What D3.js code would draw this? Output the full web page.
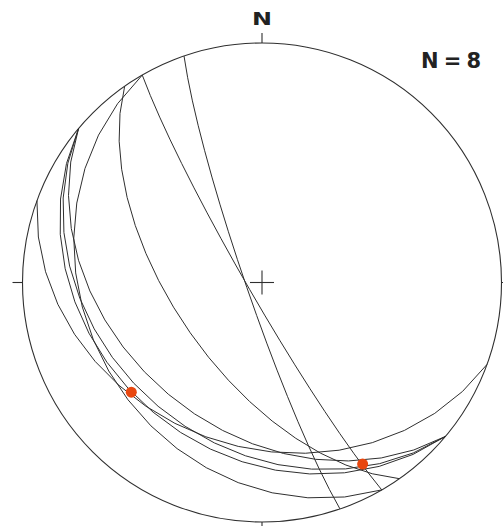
<!DOCTYPE html>
<html>
<head>
<meta charset="utf-8">
<script src="https://cdn.jsdelivr.net/npm/d3@7"></script>
<style>
  html, body { margin: 0; padding: 0; background: #fff; }
  svg { display: block; }
</style>
</head>
<body>
<svg id="net" width="503" height="526"></svg>
<script>
// Planes measured in the field: strike (right-hand rule) and dip, in degrees
const planeStrikes = [161, 150, 150, 145, 110, 130, 130, 130];
const planeDips    = [84.6, 85.2, 27, 60, 32, 30, 33, 39];

// Lineations: trend and plunge, in degrees
const pointTrends  = [230, 151];
const pointPlunges = [29.5, 14.4];

// Labels
const northLabel = "N";
const countLabel = "N = 8";

const svg = d3.select("#net");
const cx = 262, cy = 282.5, R = 239.5;
const rad = Math.PI / 180;

// Net coordinates (-1..1) to pixels
const xScale = d3.scaleLinear().domain([-1, 1]).range([cx - R, cx + R]);
const yScale = d3.scaleLinear().domain([-1, 1]).range([cy + R, cy - R]);
// Lambert equal-area: distance from centre grows with sqrt(1 - sin(plunge))
const rhoScale = d3.scaleSqrt().domain([0, 1]).range([0, 1]);

// Project a line (trend, plunge) onto the lower hemisphere net
function project(trend, plunge) {
  const rho = rhoScale(1 - Math.sin(plunge * rad));
  return [xScale(rho * Math.sin(trend * rad)), yScale(rho * Math.cos(trend * rad))];
}

// Points along a great circle, stepping the rake from 0 to 180 degrees
function greatCircle(strike, dip, step) {
  const s = strike * rad, d = dip * rad;
  const S = [Math.cos(s), Math.sin(s), 0];
  const D = [Math.cos(d) * Math.cos(s + Math.PI / 2), Math.cos(d) * Math.sin(s + Math.PI / 2), Math.sin(d)];
  const pts = [];
  for (let a = 0; a <= 180 + 1e-9; a += step) {
    const ca = Math.cos(a * rad), sa = Math.sin(a * rad);
    const n = ca * S[0] + sa * D[0];
    const e = ca * S[1] + sa * D[1];
    const z = Math.min(1, Math.max(0, ca * S[2] + sa * D[2]));
    const trend = Math.atan2(e, n) / rad;
    const plunge = Math.asin(z) / rad;
    pts.push(project(trend, plunge));
  }
  return pts;
}

const ink = "#2f2f2f";

// Primitive circle
svg.append("circle")
  .attr("cx", xScale(0)).attr("cy", yScale(0))
  .attr("r", xScale(1) - xScale(0))
  .attr("fill", "none").attr("stroke", ink).attr("stroke-width", 1.1);

// Ticks at the cardinal points, pointing outward
const tickLen = 10;
[0, 90, 180, 270].forEach(az => {
  const [x1, y1] = project(az, 0);
  const ux = Math.sin(az * rad), uy = -Math.cos(az * rad);
  svg.append("line")
    .attr("x1", x1).attr("y1", y1)
    .attr("x2", x1 + ux * tickLen).attr("y2", y1 + uy * tickLen)
    .attr("stroke", ink).attr("stroke-width", 1.1);
});

// Centre cross
const crossHalf = 12;
svg.append("line")
  .attr("x1", xScale(0) - crossHalf).attr("x2", xScale(0) + crossHalf)
  .attr("y1", yScale(0)).attr("y2", yScale(0))
  .attr("stroke", ink).attr("stroke-width", 1.1);
svg.append("line")
  .attr("x1", xScale(0)).attr("x2", xScale(0))
  .attr("y1", yScale(0) - crossHalf).attr("y2", yScale(0) + crossHalf)
  .attr("stroke", ink).attr("stroke-width", 1.1);

// Great circles
const line = d3.line().curve(d3.curveLinear);
svg.append("g").selectAll("path")
  .data(d3.range(planeStrikes.length))
  .join("path")
  .attr("d", i => line(greatCircle(planeStrikes[i], planeDips[i], 10)))
  .attr("fill", "none")
  .attr("stroke", ink)
  .attr("stroke-width", 1)
  .attr("stroke-linejoin", "round");

// Lineations
svg.append("g").selectAll("circle")
  .data(d3.range(pointTrends.length))
  .join("circle")
  .attr("cx", i => project(pointTrends[i], pointPlunges[i])[0])
  .attr("cy", i => project(pointTrends[i], pointPlunges[i])[1])
  .attr("r", 5.5)
  .attr("fill", "#e8470f");

// North label
svg.append("text")
  .attr("x", xScale(0)).attr("y", 25)
  .attr("text-anchor", "middle")
  .attr("font-family", "DejaVu Sans, sans-serif")
  .attr("font-weight", "bold")
  .attr("font-size", 18)
  .attr("textLength", 20)
  .attr("lengthAdjust", "spacingAndGlyphs")
  .attr("fill", "#222")
  .text(northLabel);

// Count label
svg.append("text")
  .attr("x", 421).attr("y", 68)
  .attr("font-family", "DejaVu Sans, sans-serif")
  .attr("font-weight", "bold")
  .attr("font-size", 21)
  .attr("textLength", 60)
  .attr("lengthAdjust", "spacing")
  .attr("fill", "#222")
  .text(countLabel);
</script>
</body>
</html>
